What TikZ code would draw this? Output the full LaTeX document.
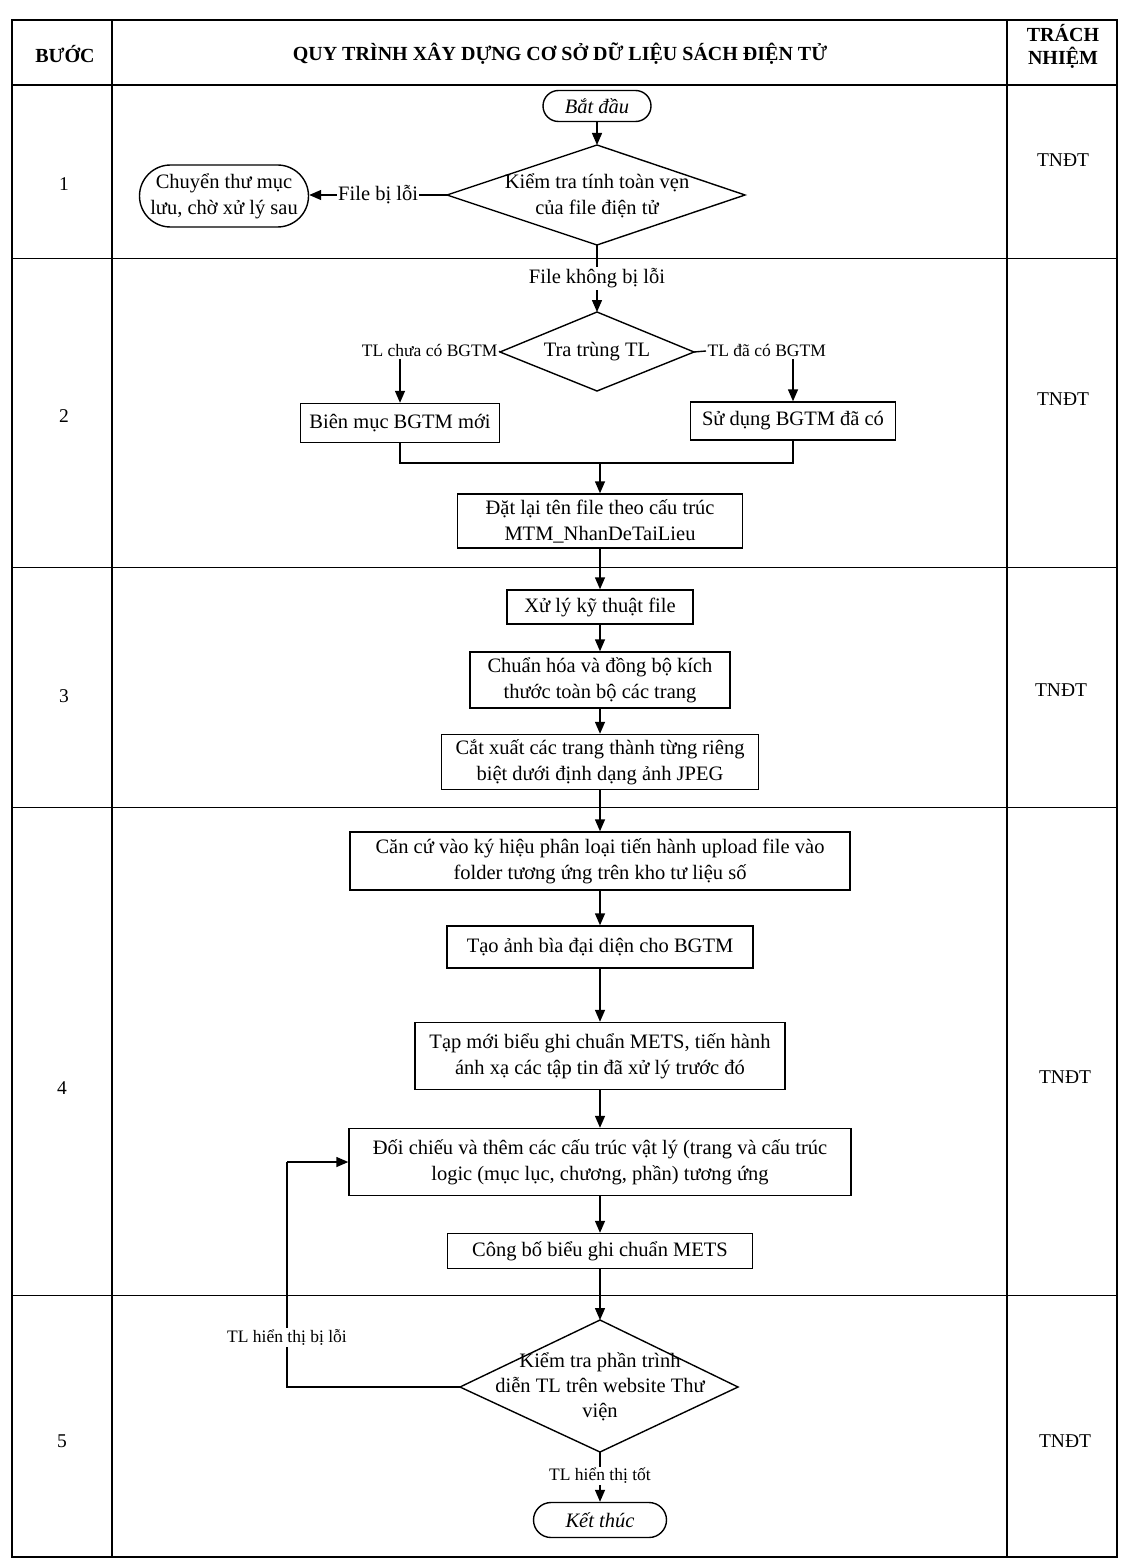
\documentclass[tikz,border=0pt]{standalone}
\usepackage{fontspec}
\setmainfont{Liberation Serif}
\usetikzlibrary{arrows.meta,shapes.misc}
\begin{document}
\begin{tikzpicture}[x=1pt,y=-1pt,
  every node/.style={font=\fontsize{20.5}{26}\selectfont},
  box/.style={draw, line width=1.4pt, align=center, inner sep=2pt},
  term/.style={draw, rounded rectangle, line width=1.4pt, align=center, inner sep=2pt},
  dtext/.style={align=center, inner sep=0pt},
  line/.style={line width=1.4pt},
  arr/.style={line width=1.4pt, -{Triangle[length=12pt,width=10pt]}},
  lbl/.style={fill=white, inner sep=1.5pt},
  slbl/.style={fill=white, inner sep=1.5pt, font=\fontsize{17.5}{21}\selectfont},
  hdr/.style={font=\fontsize{20}{23}\selectfont\bfseries, align=center},
  cell/.style={font=\fontsize{19.5}{23}\selectfont}
]
\useasboundingbox (0,0) rectangle (1129,1562);
% table
\draw[line width=2.2pt] (12,20) rectangle (1117,1557);
\draw[line width=2.2pt] (12,85) -- (1117,85);
\draw[line width=2pt] (112,20) -- (112,1557);
\draw[line width=2pt] (1007,20) -- (1007,1557);
\foreach \yy in {258,567,807,1295} \draw[line width=1pt] (12,\yy) -- (1117,\yy);
% header
\node[hdr] (hstep) at (65,54) {BƯỚC};
\node[hdr] (htitle) at (560,54) {QUY TRÌNH XÂY DỰNG CƠ SỞ DỮ LIỆU SÁCH ĐIỆN TỬ};
\node[hdr] (hresp) at (1063,46) {TRÁCH\\NHIỆM};
% step numbers and responsibility
\node[cell] (s1) at (64,184) {1};
\node[cell] (s2) at (64,416) {2};
\node[cell] (s3) at (64,696) {3};
\node[cell] (s4) at (62,1088) {4};
\node[cell] (s5) at (62,1441) {5};
\node[cell] (r1) at (1063,160) {TNĐT};
\node[cell] (r2) at (1063,399) {TNĐT};
\node[cell] (r3) at (1061,690) {TNĐT};
\node[cell] (r4) at (1065,1077) {TNĐT};
\node[cell] (r5) at (1065,1441) {TNĐT};
% step 1
\node[term, minimum width=112pt, minimum height=31pt, font=\fontsize{20.5}{26}\selectfont\itshape] (start) at (597,106) {Bắt đầu};
\node[dtext] (d1) at (597,196) {Kiểm tra tính toàn vẹn\\của file điện tử};
\coordinate (d1n) at (597,145);
\coordinate (d1e) at (745,195);
\coordinate (d1s) at (597,245);
\coordinate (d1w) at (447,195);
\draw[line] (d1n) -- (d1e) -- (d1s) -- (d1w) -- cycle;
\node[term, minimum width=173pt, minimum height=62pt] (move) at (224,196) {Chuyển thư mục\\lưu, chờ xử lý sau};
\draw[arr] (start) -- (d1n);
\draw[arr] (d1w) -- node[lbl] {File bị lỗi} (move.east |- d1w);
% step 2
\coordinate (d2n) at (597,312);
\coordinate (d2e) at (694,352);
\coordinate (d2s) at (597,391);
\coordinate (d2w) at (500,352);
\draw[line] (d2n) -- (d2e) -- (d2s) -- (d2w) -- cycle;
\node[dtext] (d2) at (597,352) {Tra trùng TL};
\draw[arr] (d1s) -- node[lbl, pos=0.5] {File không bị lỗi} (d2n);
\node[box, minimum width=199pt, minimum height=39pt] (b2a) at (400,423) {Biên mục BGTM mới};
\node[box, minimum width=205pt, minimum height=38pt] (b2b) at (793,421) {Sử dụng BGTM đã có};
\node[slbl, anchor=east] (l2a) at (499,351) {TL chưa có BGTM};
\node[slbl, anchor=west] (l2b) at (706,351) {TL đã có BGTM};
\draw[line] (d2w) -- (l2a.east);
\draw[line] (d2e) -- (l2b.west);
\draw[arr] (l2a.south -| b2a.north) -- (b2a.north);
\draw[arr] (l2b.south -| b2b.north) -- (b2b.north);
\node[box, minimum width=285pt, minimum height=54pt] (b3) at (600,521) {Đặt lại tên file theo cấu trúc\\MTM\_NhanDeTaiLieu};
\coordinate (m2) at (600,463);
\draw[line] (b2a.south) |- (m2) -| (b2b.south);
\draw[arr] (m2) -- (b3.north);
% step 3
\node[box, minimum width=186pt, minimum height=34pt] (b4) at (600,607) {Xử lý kỹ thuật file};
\node[box, minimum width=260pt, minimum height=56pt] (b5) at (600,680) {Chuẩn hóa và đồng bộ kích\\thước toàn bộ các trang};
\node[box, minimum width=317pt, minimum height=55pt] (b6) at (600,762) {Cắt xuất các trang thành từng riêng\\biệt dưới định dạng ảnh JPEG};
\draw[arr] (b3) -- (b4);
\draw[arr] (b4) -- (b5);
\draw[arr] (b5) -- (b6);
% step 4
\node[box, minimum width=500pt, minimum height=58pt] (b7) at (600,861) {Căn cứ vào ký hiệu phân loại tiến hành upload file vào\\folder tương ứng trên kho tư liệu số};
\node[box, minimum width=306pt, minimum height=42pt] (b8) at (600,947) {Tạo ảnh bìa đại diện cho BGTM};
\node[box, minimum width=370pt, minimum height=67pt] (b9) at (600,1056) {Tạp mới biểu ghi chuẩn METS, tiến hành\\ánh xạ các tập tin đã xử lý trước đó};
\node[box, minimum width=502pt, minimum height=67pt] (b10) at (600,1162) {Đối chiếu và thêm các cấu trúc vật lý (trang và cấu trúc\\logic (mục lục, chương, phần) tương ứng};
\node[box, minimum width=305pt, minimum height=35pt] (b11) at (600,1251) {Công bố biểu ghi chuẩn METS};
\draw[arr] (b6) -- (b7);
\draw[arr] (b7) -- (b8);
\draw[arr] (b8) -- (b9);
\draw[arr] (b9) -- (b10);
\draw[arr] (b10) -- (b11);
% step 5
\coordinate (d3n) at (600,1320);
\coordinate (d3e) at (738,1387);
\coordinate (d3s) at (600,1452);
\coordinate (d3w) at (460,1387);
\draw[line] (d3n) -- (d3e) -- (d3s) -- (d3w) -- cycle;
\node[dtext, font=\fontsize{20.5}{25}\selectfont] (d3) at (600,1387) {Kiểm tra phần trình\\diễn TL trên website Thư\\viện};
\draw[arr] (b11) -- (d3n);
\coordinate (lpa) at (287,1387);
\coordinate (lpb) at (287,1162);
\draw[line] (d3w) -- (lpa) -- node[slbl, pos=0.22] {TL hiển thị bị lỗi} (lpb);
\draw[arr] (lpb) -- (b10.west);
\node[term, minimum width=137pt, minimum height=35pt, font=\fontsize{20.5}{26}\selectfont\itshape] (end) at (600,1520) {Kết thúc};
\draw[arr] (d3s) -- node[slbl, pos=0.48] {TL hiển thị tốt} (end.north);
\end{tikzpicture}
\end{document}
